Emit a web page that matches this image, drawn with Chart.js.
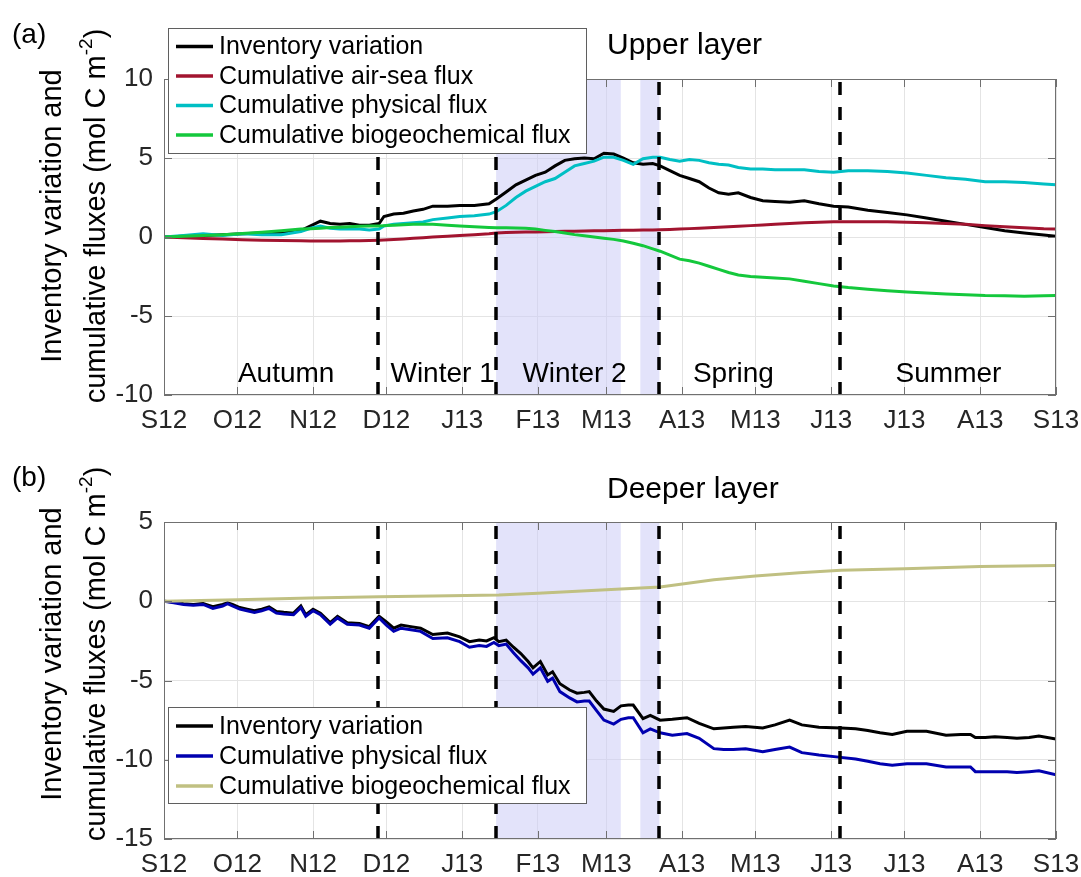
<!DOCTYPE html>
<html>
<head>
<meta charset="utf-8">
<script src="https://cdn.jsdelivr.net/npm/chart.js@4.4.1/dist/chart.umd.min.js"></script>
<style>
  body { margin: 0; background: #fff; }
  #wrap { position: relative; width: 1081px; height: 877px; }
  canvas { position: absolute; left: 0; }
  #upper { top: 0; }
  #deeper { top: 440px; }
</style>
</head>
<body>
<div id="wrap">
  <canvas id="upper" width="1081" height="440"></canvas>
  <canvas id="deeper" width="1081" height="437"></canvas>
</div>
<script>
const FONT = "'Liberation Sans', Arial, sans-serif";

// x axis in days since 1 Sep 2012
const monthDays = [0, 30, 61, 91, 122, 153, 181, 212, 242, 273, 303, 334, 365];
const monthLabels = ["S12", "O12", "N12", "D12", "J13", "F13", "M13", "A13", "M13", "J13", "J13", "A13", "S13"];

const seasonNames = ["Autumn", "Winter 1", "Winter 2", "Spring", "Summer"];
const seasonBounds = [87.7, 135.9, 202.7, 276.7];
const shadeSpans = [[135.9, 186.9], [194.9, 202.7]];

// Upper layer (mol C m-2)
const upperDays = [0, 8, 16, 24, 32, 40, 48, 56, 60, 64, 68, 72, 76, 80, 84, 88, 90, 94, 98, 102, 106, 110, 116, 121,
  127, 133, 136, 140, 144, 148, 152, 156, 160, 164, 168, 172, 176, 180, 184, 188, 192, 196, 200, 203, 207, 211, 215, 219,
  223, 227, 231, 235, 240, 245, 250, 256, 262, 268, 274, 280, 288, 296, 304, 312, 320, 328, 336, 344, 352, 360, 365];
const upperInventory = [0, 0.05, 0.1, 0.15, 0.2, 0.25, 0.3, 0.4, 0.7, 1.0, 0.85, 0.8, 0.85, 0.75, 0.75, 0.85,
  1.3, 1.45, 1.5, 1.65, 1.75, 1.95, 1.95, 2.0, 2.0, 2.1, 2.4, 2.85, 3.3, 3.6, 3.9, 4.1,
  4.5, 4.85, 4.95, 5.0, 4.95, 5.3, 5.25, 5.0, 4.7, 4.6, 4.65, 4.5, 4.2, 3.9, 3.7, 3.5,
  3.1, 2.8, 2.7, 2.8, 2.5, 2.3, 2.25, 2.2, 2.3, 2.1, 1.95, 1.9, 1.7, 1.55, 1.4, 1.2,
  1.0, 0.8, 0.6, 0.4, 0.25, 0.12, 0.05];
const upperAirSea = [0, -0.05, -0.1, -0.13, -0.17, -0.2, -0.22, -0.24, -0.25, -0.25, -0.25, -0.25, -0.24, -0.23, -0.22, -0.2,
  -0.19, -0.16, -0.12, -0.08, -0.04, 0.0, 0.05, 0.1, 0.15, 0.2, 0.25, 0.28, 0.3, 0.31, 0.32, 0.33,
  0.35, 0.36, 0.37, 0.38, 0.39, 0.4, 0.41, 0.42, 0.43, 0.44, 0.45, 0.46, 0.48, 0.5, 0.53, 0.56,
  0.59, 0.62, 0.65, 0.68, 0.72, 0.76, 0.8, 0.85, 0.9, 0.93, 0.96, 0.97, 0.97, 0.96, 0.94, 0.9,
  0.86, 0.8, 0.72, 0.65, 0.58, 0.52, 0.5];
const upperPhysical = [0, 0.1, 0.2, 0.1, 0.2, 0.15, 0.15, 0.35, 0.55, 0.7, 0.55, 0.5, 0.5, 0.5, 0.45, 0.5,
  0.7, 0.8, 0.85, 0.9, 0.95, 1.1, 1.2, 1.3, 1.35, 1.45, 1.6, 2.0, 2.5, 2.9, 3.2, 3.5,
  3.7, 4.1, 4.5, 4.65, 4.8, 5.05, 5.05, 4.85, 4.6, 4.95, 5.05, 5.05, 4.9, 4.8, 4.9, 4.85,
  4.7, 4.6, 4.55, 4.4, 4.3, 4.3, 4.25, 4.25, 4.25, 4.15, 4.1, 4.2, 4.2, 4.15, 4.05, 3.9,
  3.75, 3.65, 3.5, 3.5, 3.45, 3.35, 3.3];
const upperBio = [0, 0.05, 0.1, 0.15, 0.22, 0.3, 0.4, 0.5, 0.52, 0.55, 0.6, 0.62, 0.65, 0.68, 0.7, 0.7,
  0.72, 0.75, 0.78, 0.8, 0.8, 0.8, 0.75, 0.7, 0.65, 0.6, 0.58, 0.58, 0.57, 0.55, 0.5, 0.42,
  0.35, 0.25, 0.15, 0.08, 0, -0.08, -0.15, -0.25, -0.4, -0.55, -0.75, -0.9, -1.15, -1.4, -1.5, -1.65,
  -1.85, -2.05, -2.25, -2.4, -2.5, -2.55, -2.6, -2.65, -2.8, -2.95, -3.1, -3.2, -3.3, -3.4, -3.48, -3.55,
  -3.6, -3.65, -3.7, -3.72, -3.75, -3.72, -3.7];

// Deeper layer (mol C m-2)
const deeperDays = [0, 4, 8, 12, 16, 20, 24, 26, 28, 31, 34, 37, 40, 43, 46, 49, 53, 56, 58, 61,
  64, 68, 71, 75, 80, 84, 88, 91, 94, 97, 101, 105, 110, 116, 121, 125, 129, 132, 135, 137,
  140, 143, 146, 149, 151, 154, 157, 159, 162, 166, 169, 172, 174, 177, 180, 184, 187, 190, 192, 196,
  199, 203, 208, 214, 219, 225, 229, 233, 238, 245, 250, 256, 261, 268, 277, 283, 288, 293, 298, 304,
  312, 320, 326, 330, 332, 336, 340, 345, 349, 354, 358, 365];
const deeperInventory = [0, -0.05, -0.15, -0.2, -0.15, -0.35, -0.2, -0.1, -0.2, -0.4,
  -0.5, -0.6, -0.5, -0.35, -0.65, -0.7, -0.75, -0.3, -0.85, -0.5,
  -0.75, -1.35, -0.95, -1.35, -1.4, -1.6, -0.95, -1.3, -1.7, -1.5,
  -1.6, -1.7, -2.1, -2.0, -2.25, -2.55, -2.45, -2.5, -2.3, -2.55,
  -2.45, -2.9, -3.3, -3.8, -4.2, -3.8, -4.65, -4.45, -5.2, -5.6,
  -5.8, -5.75, -5.7, -6.3, -6.8, -6.95, -6.6, -6.55, -6.55, -7.4,
  -7.2, -7.5, -7.45, -7.35, -7.7, -8.05, -8.0, -7.95, -7.9, -8.0,
  -7.8, -7.5, -7.8, -7.95, -8.0, -8.05, -8.15, -8.3, -8.4, -8.2,
  -8.2, -8.45, -8.4, -8.4, -8.6, -8.6, -8.55, -8.6, -8.65, -8.6,
  -8.5, -8.7];
const deeperPhysical = [0, -0.1, -0.2, -0.25, -0.2, -0.45, -0.3, -0.15, -0.3, -0.5,
  -0.6, -0.7, -0.6, -0.45, -0.75, -0.8, -0.85, -0.4, -0.95, -0.6,
  -0.85, -1.45, -1.05, -1.45, -1.5, -1.7, -1.05, -1.5, -1.9, -1.7,
  -1.8, -1.9, -2.35, -2.3, -2.55, -2.9, -2.8, -2.85, -2.6, -2.8,
  -2.7, -3.25, -3.75, -4.2, -4.6, -4.2, -5.05, -4.85, -5.7, -6.1,
  -6.35, -6.3, -6.3, -6.9, -7.5, -7.75, -7.45, -7.35, -7.35, -8.3,
  -8.05, -8.3, -8.45, -8.35, -8.65, -9.3, -9.35, -9.35, -9.3, -9.5,
  -9.35, -9.2, -9.55, -9.7, -9.85, -9.95, -10.1, -10.25, -10.35, -10.25,
  -10.25, -10.45, -10.45, -10.45, -10.75, -10.75, -10.75, -10.75, -10.8, -10.75,
  -10.7, -10.95];
const deeperBioDays = [0, 30, 60, 88, 110, 137, 153, 181, 203, 225, 242, 260, 277, 303, 334, 365];
const deeperBio = [0, 0.1, 0.2, 0.28, 0.33, 0.4, 0.5, 0.73, 0.9, 1.35, 1.6, 1.8, 1.95, 2.05, 2.2, 2.25];

const pts = (days, vals) => days.map((d, i) => ({ x: d, y: vals[i] }));

const line = (label, color, data, order) => ({
  label, data, order,
  borderColor: color,
  borderWidth: 3,
  pointRadius: 0,
  tension: 0,
  fill: false,
});

// shading, season lines, box, legend, labels
const decor = {
  id: "decor",
  beforeDatasetsDraw(chart) {
    const { ctx, chartArea: a, scales: { x } } = chart;
    ctx.save();
    ctx.fillStyle = "rgba(204,204,245,0.55)";
    shadeSpans.forEach(([s, e]) => {
      const x0 = x.getPixelForValue(s);
      const x1 = x.getPixelForValue(e);
      ctx.fillRect(x0, a.top, x1 - x0, a.bottom - a.top);
    });
    ctx.restore();
  },
  afterDatasetsDraw(chart, args, opts) {
    const { ctx, chartArea: a, scales: { x, y } } = chart;
    ctx.save();
    ctx.strokeStyle = "#000";
    ctx.lineWidth = 3.5;
    ctx.setLineDash([13, 12]);
    seasonBounds.forEach((d) => {
      const px = Math.round(x.getPixelForValue(d));
      ctx.beginPath();
      ctx.moveTo(px, a.bottom);
      ctx.lineTo(px, a.top);
      ctx.stroke();
    });
    ctx.setLineDash([]);

    // axes box with inward ticks
    ctx.strokeStyle = "#707070";
    ctx.lineWidth = 1;
    ctx.strokeRect(a.left + 0.5, a.top + 0.5, a.right - a.left - 1, a.bottom - a.top - 1);
    ctx.beginPath();
    monthDays.forEach((d) => {
      const px = Math.round(x.getPixelForValue(d)) + 0.5;
      ctx.moveTo(px, a.bottom); ctx.lineTo(px, a.bottom - 8);
      ctx.moveTo(px, a.top); ctx.lineTo(px, a.top + 8);
    });
    y.ticks.forEach((t) => {
      const py = Math.round(y.getPixelForValue(t.value)) + 0.5;
      ctx.moveTo(a.left, py); ctx.lineTo(a.left + 8, py);
      ctx.moveTo(a.right, py); ctx.lineTo(a.right - 8, py);
    });
    ctx.stroke();

    if (opts.seasons) {
      ctx.fillStyle = "#000";
      ctx.font = `28px ${FONT}`;
      ctx.textAlign = "center";
      ctx.textBaseline = "alphabetic";
      const labelDays = [50, 114, 168, 233, 321];
      seasonNames.forEach((n, i) => {
        ctx.fillText(n, x.getPixelForValue(labelDays[i]), a.bottom - 13);
      });
    }
    ctx.restore();
  },
  afterDraw(chart, args, opts) {
    const { ctx } = chart;
    ctx.save();
    ctx.fillStyle = "#000";

    // panel letter and title
    ctx.font = `28px ${FONT}`;
    ctx.textAlign = "left";
    ctx.textBaseline = "alphabetic";
    ctx.fillText(opts.panel, 12, opts.panelY);
    ctx.font = `30px ${FONT}`;
    ctx.fillText(opts.title, 607, opts.titleY);

    // y axis label, two lines
    const cy = opts.ylabelY;
    ctx.save();
    ctx.translate(53, cy);
    ctx.rotate(-Math.PI / 2);
    ctx.font = `29px ${FONT}`;
    ctx.textAlign = "center";
    ctx.textBaseline = "middle";
    ctx.fillText("Inventory variation and", 0, 0);
    ctx.restore();

    ctx.save();
    ctx.translate(95, cy);
    ctx.rotate(-Math.PI / 2);
    const head = "cumulative fluxes (mol C m";
    ctx.font = `29px ${FONT}`;
    const w1 = ctx.measureText(head).width;
    const w3 = ctx.measureText(")").width;
    ctx.font = `19px ${FONT}`;
    const w2 = ctx.measureText("-2").width;
    let sx = -(w1 + w2 + w3) / 2;
    ctx.textAlign = "left";
    ctx.textBaseline = "alphabetic";
    ctx.font = `29px ${FONT}`;
    ctx.fillText(head, sx, 10);
    sx += w1;
    ctx.font = `19px ${FONT}`;
    ctx.fillText("-2", sx, -3);
    sx += w2;
    ctx.font = `29px ${FONT}`;
    ctx.fillText(")", sx, 10);
    ctx.restore();

    // legend
    const lg = opts.legend;
    ctx.fillStyle = "#fff";
    ctx.fillRect(lg.left, lg.top, lg.width, lg.height);
    ctx.strokeStyle = "#5f5f5f";
    ctx.lineWidth = 1;
    ctx.strokeRect(lg.left + 0.5, lg.top + 0.5, lg.width, lg.height);
    ctx.font = `25px ${FONT}`;
    ctx.textBaseline = "middle";
    ctx.textAlign = "left";
    chart.data.datasets.forEach((ds, i) => {
      const ry = lg.top + lg.first + i * lg.gap;
      ctx.strokeStyle = ds.borderColor;
      ctx.lineWidth = 3.5;
      ctx.beginPath();
      ctx.moveTo(lg.left + 8, ry);
      ctx.lineTo(lg.left + 45, ry);
      ctx.stroke();
      ctx.fillStyle = "#000";
      ctx.fillText(ds.label, lg.left + 51, ry + 1);
    });
    ctx.restore();
  },
};

const makePanel = (id, datasets, yMin, yMax, padTop, xHeight, deco) => new Chart(document.getElementById(id), {
  type: "line",
  data: { datasets },
  options: {
    responsive: false,
    animation: false,
    layout: { padding: { top: padTop, right: 25, left: 0, bottom: 0 } },
    plugins: { legend: { display: false }, tooltip: { enabled: false }, decor: deco },
    scales: {
      x: {
        type: "linear",
        min: 0,
        max: 365,
        afterBuildTicks: (s) => { s.ticks = monthDays.map((v) => ({ value: v })); },
        afterFit: (s) => { s.height = xHeight; s.paddingLeft = 0; s.paddingRight = 0; },
        ticks: {
          callback: (v, i) => monthLabels[i],
          autoSkip: false,
          maxRotation: 0,
          padding: 10,
          color: "#262626",
          font: { family: FONT, size: 26 },
        },
        grid: { color: "#e4e4e4", drawTicks: false },
        border: { display: false },
      },
      y: {
        min: yMin,
        max: yMax,
        afterFit: (s) => { s.width = 164; s.paddingTop = 0; s.paddingBottom = 0; },
        ticks: {
          stepSize: 5,
          padding: 11,
          color: "#262626",
          font: { family: FONT, size: 26 },
        },
        grid: { color: "#e4e4e4", drawTicks: false },
        border: { display: false },
      },
    },
  },
  plugins: [decor],
});

makePanel("upper", [
  line("Inventory variation", "#000000", pts(upperDays, upperInventory), 3),
  line("Cumulative air-sea flux", "rgb(162,20,47)", pts(upperDays, upperAirSea), 2),
  line("Cumulative physical flux", "rgb(0,191,196)", pts(upperDays, upperPhysical), 1),
  line("Cumulative biogeochemical flux", "rgb(20,200,60)", pts(upperDays, upperBio), 0),
], -10, 10, 79, 45, {
  panel: "(a)", panelY: 43, title: "Upper layer", titleY: 54, ylabelY: 216, seasons: true,
  legend: { left: 168, top: 28, width: 418, height: 125, first: 18.5, gap: 29.5 },
});

makePanel("deeper", [
  line("Inventory variation", "#000000", pts(deeperDays, deeperInventory), 2),
  line("Cumulative physical flux", "rgb(0,0,175)", pts(deeperDays, deeperPhysical), 1),
  line("Cumulative biogeochemical flux", "rgb(192,192,130)", pts(deeperBioDays, deeperBio), 0),
], -15, 5, 82, 38, {
  panel: "(b)", panelY: 46, title: "Deeper layer", titleY: 58, ylabelY: 214, seasons: false,
  legend: { left: 168, top: 267, width: 418, height: 96, first: 19, gap: 30 },
});
</script>
</body>
</html>
